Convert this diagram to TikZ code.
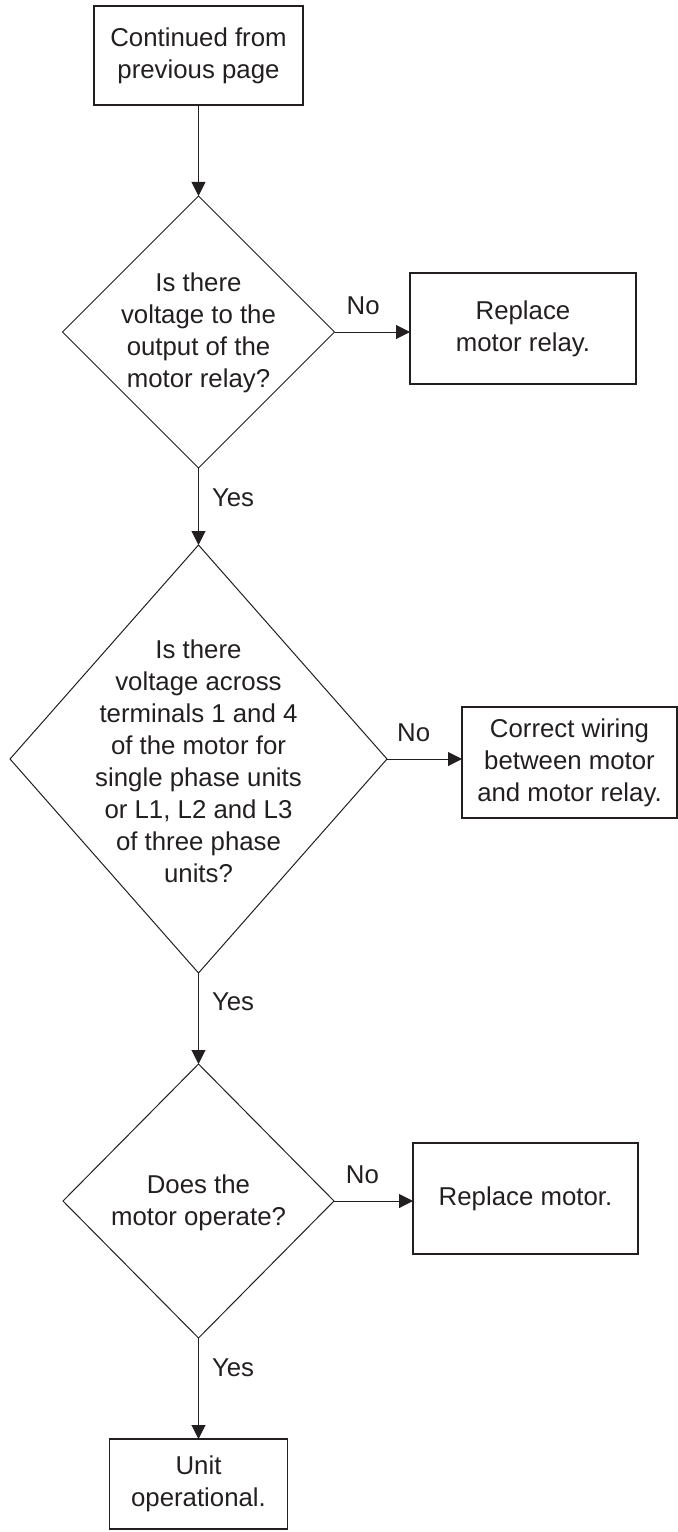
\documentclass[tikz,border=0pt]{standalone}
\usepackage{fontspec}
\setmainfont{Liberation Sans}
\usetikzlibrary{shapes.geometric,arrows.meta}
\definecolor{ink}{HTML}{231F20}

\begin{document}
\begin{tikzpicture}[
    x=0.5pt, y=-0.5pt,
    box/.style={draw=ink, line width=0.65pt, align=center, inner sep=0pt, outer sep=0pt, text=ink, font=\fontsize{12.9}{16}\selectfont},
    dec/.style={diamond, draw=ink, line width=0.5pt, inner sep=0pt, outer sep=0pt},
    txt/.style={align=center, inner sep=0pt, text=ink, font=\fontsize{12.9}{16}\selectfont},
    lab/.style={inner sep=0pt, text=ink, font=\fontsize{12.9}{16}\selectfont},
    arr/.style={-{Triangle[length=7pt, width=7pt]}, line width=0.5pt, draw=ink, fill=ink}
]
    \useasboundingbox (0,0) rectangle (678,1532);

    % Start
    \node[box, minimum width=104.5pt, minimum height=49.5pt] (start) at (198.5, 55.5) {Continued from\\previous page};

    % First check
    \node[dec, minimum width=136pt, minimum height=136pt] (q1) at (198.5, 332) {};
    \node[txt] (q1text) at (198.5, 333) {Is there\\voltage to the\\output of the\\motor relay?};
    \node[box, minimum width=113pt, minimum height=55.5pt] (fix1) at (523, 328.5) {Replace\\motor relay.};

    % Second check
    \node[dec, minimum width=188.5pt, minimum height=214pt] (q2) at (198.5, 759) {};
    \node[txt] (q2text) at (198.5, 761) {Is there\\voltage across\\terminals 1 and 4\\of the motor for\\single phase units\\or L1, L2 and L3\\of three phase\\units?};
    \node[box, minimum width=107.5pt, minimum height=55.5pt] (fix2) at (569.5, 762.5) {Correct wiring\\between motor\\and motor relay.};

    % Third check
    \node[dec, minimum width=135.5pt, minimum height=137pt] (q3) at (198.5, 1201) {};
    \node[txt] (q3text) at (198.5, 1203) {Does the\\motor operate?};
    \node[box, minimum width=112.5pt, minimum height=55.5pt] (fix3) at (525.5, 1198.5) {Replace motor.};

    % End
    \node[box, minimum width=89pt, minimum height=45pt] (done) at (198.5, 1484) {Unit\\operational.};

    % Connections
    \draw[arr] (start) -- (q1);
    \draw[arr] (q1.east) -- node[lab, pos=0.38, above=8.35pt] {No} (q1.east -| fix1.west);
    \draw[arr] (q1.south) -- node[lab, pos=0.38, right=6.5pt] {Yes} (q2.north);
    \draw[arr] (q2.east) -- node[lab, pos=0.355, above=8.35pt] {No} (q2.east -| fix2.west);
    \draw[arr] (q2.south) -- node[lab, pos=0.32, right=6.5pt] {Yes} (q3.north);
    \draw[arr] (q3.east) -- node[lab, pos=0.36, above=8.35pt] {No} (q3.east -| fix3.west);
    \draw[arr] (q3.south) -- node[lab, pos=0.29, right=6.5pt] {Yes} (done);
\end{tikzpicture}
\end{document}
